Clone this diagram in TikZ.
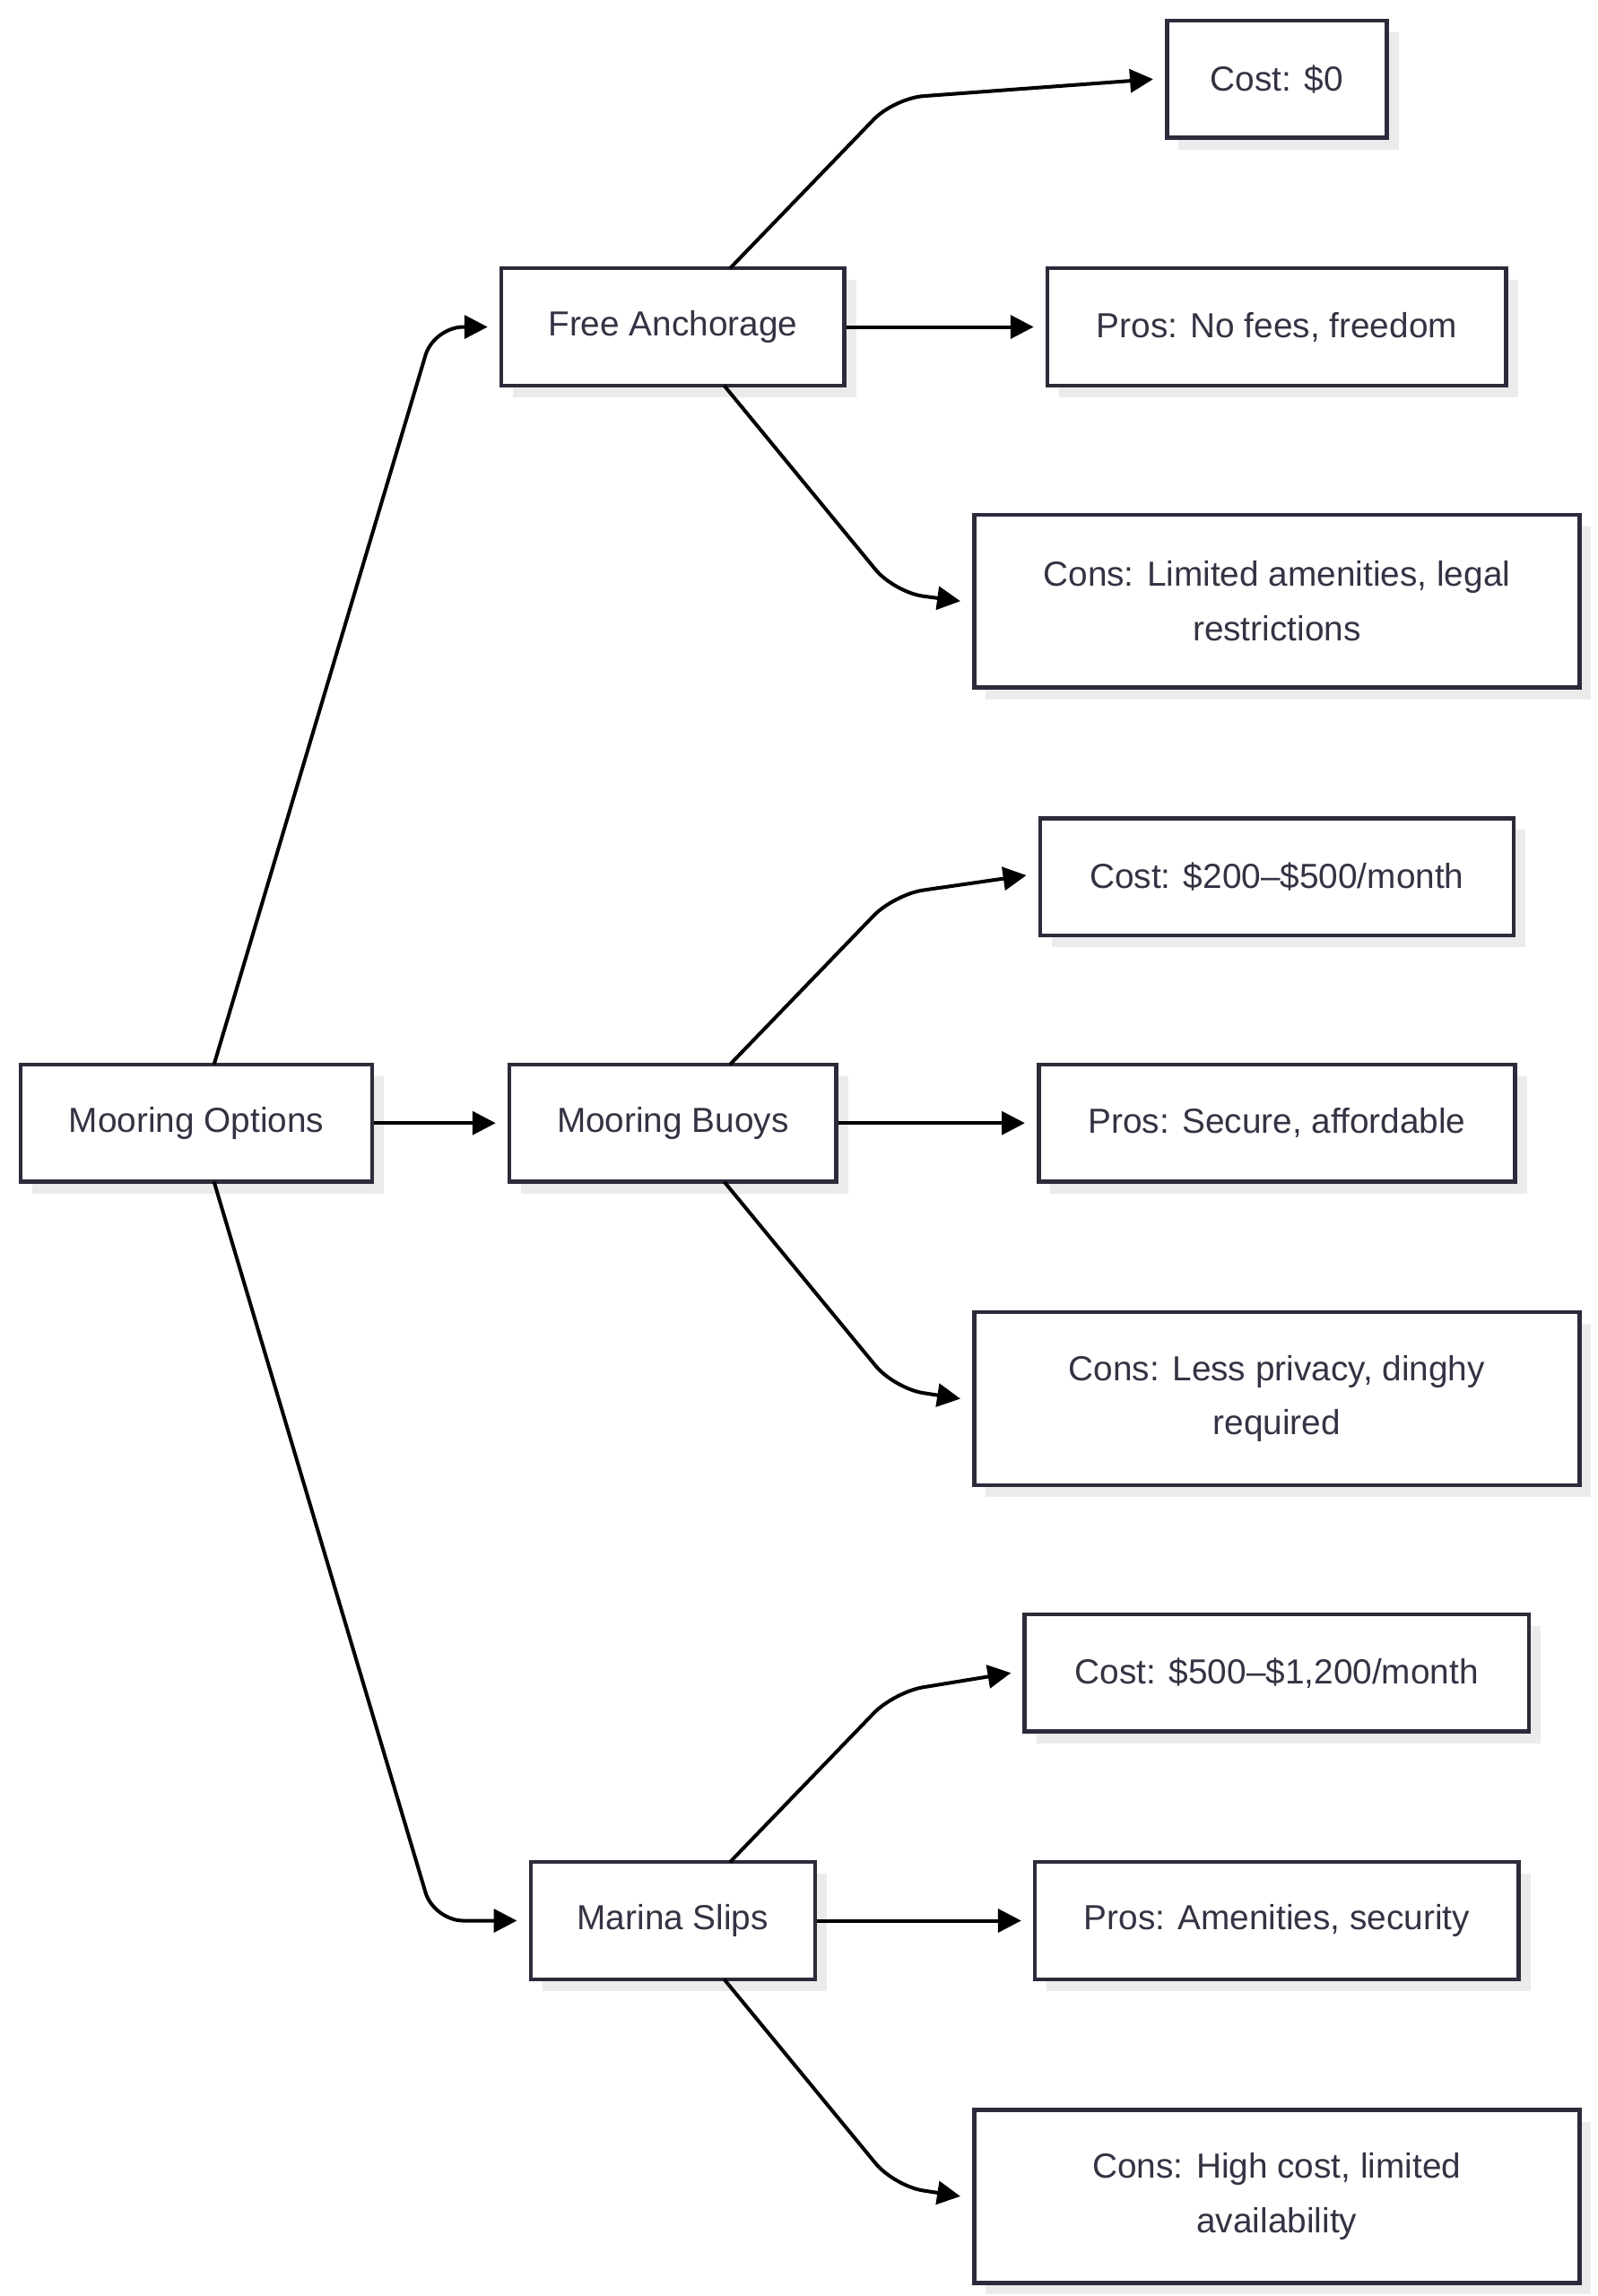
\documentclass[tikz,border=0pt]{standalone}
\usepackage{fontspec}
\setmainfont{Liberation Sans}
\usetikzlibrary{arrows.meta,shadows}
\definecolor{edge}{HTML}{2B2B3B}
\definecolor{ink}{HTML}{333344}

\begin{document}
\begin{tikzpicture}[x=0.02cm, y=-0.02cm,
  box/.style={rectangle, draw=edge, line width=1.6pt, fill=white, text=ink, font=\fontsize{13.5}{21}\selectfont, align=center, inner sep=0pt, drop shadow={shadow xshift=0.16cm, shadow yshift=-0.16cm, fill=black!8, opacity=1}},
  link/.style={line width=1.4pt, rounded corners=0.4cm, -{Triangle[length=9pt, width=9pt]}}]

  \useasboundingbox (0,0) rectangle (1090,1566);

  % root and groups
  \node[box, minimum width=4.8cm, minimum height=1.6cm] (root) at (134,766) {Mooring Options};
  \node[box, minimum width=4.68cm, minimum height=1.6cm] (free) at (459,223) {Free Anchorage};
  \node[box, minimum width=4.46cm, minimum height=1.6cm] (buoy) at (459,766) {Mooring Buoys};
  \node[box, minimum width=3.88cm, minimum height=1.6cm] (slip) at (459,1310) {Marina Slips};

  % free anchorage
  \node[box, minimum width=3.0cm, minimum height=1.6cm] (freecost) at (871,54) {Cost: \$0};
  \node[box, minimum width=6.26cm, minimum height=1.6cm] (freepros) at (871,223) {Pros: No fees, freedom};
  \node[box, minimum width=8.26cm, minimum height=2.36cm] (freecons) at (871,410) {Cons: Limited amenities, legal\\restrictions};

  % mooring buoys
  \node[box, minimum width=6.46cm, minimum height=1.6cm] (buoycost) at (871,598) {Cost: \$200–\$500/month};
  \node[box, minimum width=6.5cm, minimum height=1.6cm] (buoypros) at (871,766) {Pros: Secure, affordable};
  \node[box, minimum width=8.26cm, minimum height=2.36cm] (buoycons) at (871,954) {Cons: Less privacy, dinghy\\required};

  % marina slips
  \node[box, minimum width=6.88cm, minimum height=1.6cm] (slipcost) at (871,1141) {Cost: \$500–\$1,200/month};
  \node[box, minimum width=6.6cm, minimum height=1.6cm] (slippros) at (871,1310) {Pros: Amenities, security};
  \node[box, minimum width=8.26cm, minimum height=2.36cm] (slipcons) at (871,1498) {Cons: High cost, limited\\availability};

  \draw[link] (146,726) -- (296,223) -- ([xshift=-0.16cm]free.west);
  \draw[link] (root.east) -- ([xshift=-0.16cm]buoy.west);
  \draw[link] (146,806) -- (296,1310) -- ([xshift=-0.16cm]slip.west);

  \foreach \g/\dy in {free/0, buoy/543, slip/1087} {
    \draw[link] (498,183+\dy) -- (610,67+\dy) -- ([xshift=-0.16cm]\g cost.west |- 0,54+\dy);
    \draw[link] (\g.east) -- ([xshift=-0.16cm]\g pros.west);
    \draw[link] (494,263+\dy) -- (610,404+\dy) -- ([xshift=-0.16cm]\g cons.west);
  }
\end{tikzpicture}
\end{document}
